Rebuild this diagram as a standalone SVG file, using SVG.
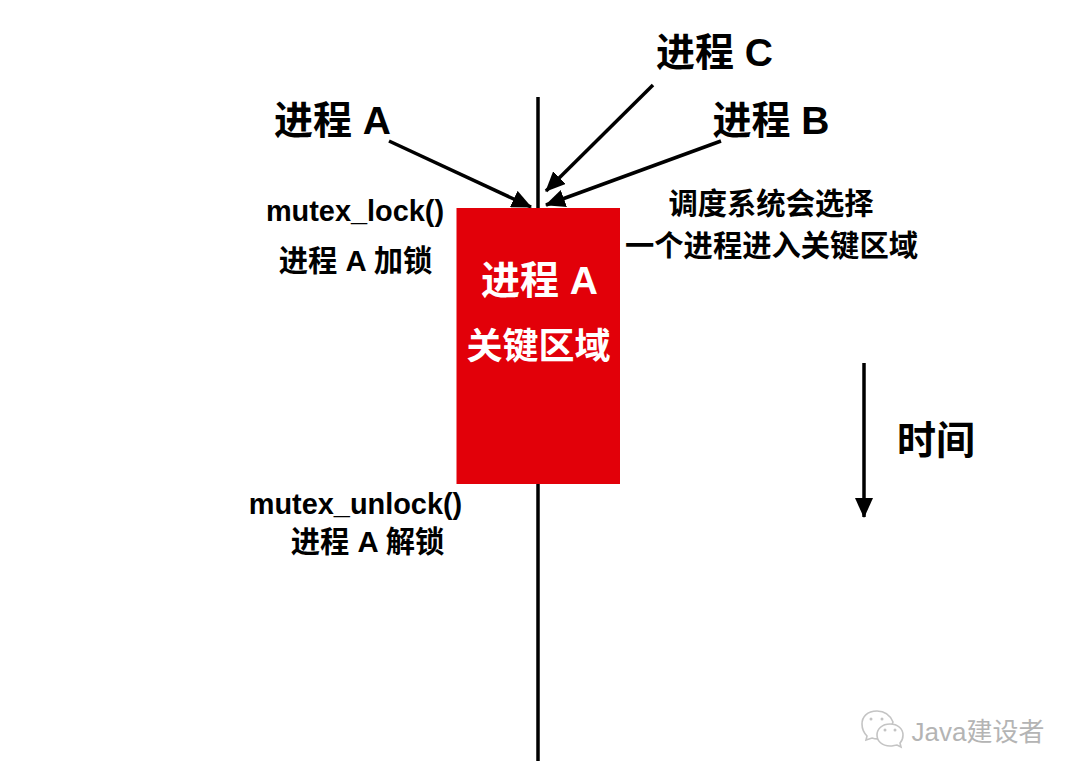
<svg xmlns="http://www.w3.org/2000/svg" width="1080" height="778" viewBox="0 0 1080 778">
<style>
text{font-family:"Liberation Sans","Noto Sans CJK SC",sans-serif;font-weight:700;fill:#000;text-anchor:middle}
.l{stroke:#000;stroke-width:3.5;fill:none}
.b{fill:#fff;stroke:#c4c4c4;stroke-width:1.6}
.d{fill:#c4c4c4}
.big{font-size:39px}
.mid{font-size:29.3px}
.code{font-size:28.9px}
</style>
<defs><marker id="a" markerUnits="userSpaceOnUse" markerWidth="20" markerHeight="18" refX="19" refY="9" orient="auto"><path d="M0 0L20 9L0 18z" fill="#000"/></marker></defs>
<rect width="1080" height="778" fill="#fff"/>
<g id="connectors">
<path class="l" d="M538 97V761"/>
<path class="l" d="M389 141L531 207" marker-end="url(#a)"/>
<path class="l" d="M653 85L546 191" marker-end="url(#a)"/>
<path class="l" d="M721 141L546 205" marker-end="url(#a)"/>
<path class="l" d="M864 363V517" marker-end="url(#a)"/>
</g>
<g id="critical"><rect x="456.500" y="208" width="163.500" height="276" fill="#e20009"/>
<text x="539.500" y="294" class="big" style="fill:#fff">进程 A</text>
<text x="538.500" y="359" font-size="36" style="fill:#fff">关键区域</text></g>
<g id="pa"><text x="332.500" y="134" class="big">进程 A</text></g>
<g id="pb"><text x="771" y="134" class="big">进程 B</text></g>
<g id="pc"><text x="714.500" y="66" class="big">进程 C</text></g>
<g id="lock"><text x="355" y="221" class="code">mutex_lock()</text>
<text x="355.500" y="271" class="mid">进程 A 加锁</text></g>
<g id="unlock"><text x="355.500" y="514" class="code">mutex_unlock()</text>
<text x="367.500" y="552" class="mid">进程 A 解锁</text></g>
<g id="sched"><text x="771" y="214" class="mid">调度系统会选择</text>
<text x="771.500" y="256" class="mid">一个进程进入关键区域</text></g>
<g id="time"><text x="936" y="454" font-size="39">时间</text></g>
<g id="wm"><text x="978" y="741" font-size="26" style="font-weight:400;fill:#b4b4b4">Java建设者</text>
<path class="b" d="M877 711C867 711 862 717 862 724C862 729 864 733 867 736L866 740L872 738C878 740 884 738 888 734L893 722C890 715 884 711 877 711Z"/>
<path class="b" d="M890 724C882 724 877 729 877 735C877 741 882 746 890 746C893 746 895 745 897 745L901 747L900 743C902 741 903 738 903 735C903 729 898 724 890 724Z"/>
<circle class="d" cx="871" cy="719" r="1.500"/><circle class="d" cx="882" cy="719" r="1.500"/>
<circle class="d" cx="885" cy="730" r="1.500"/><circle class="d" cx="895" cy="730" r="1.500"/></g>
</svg>
